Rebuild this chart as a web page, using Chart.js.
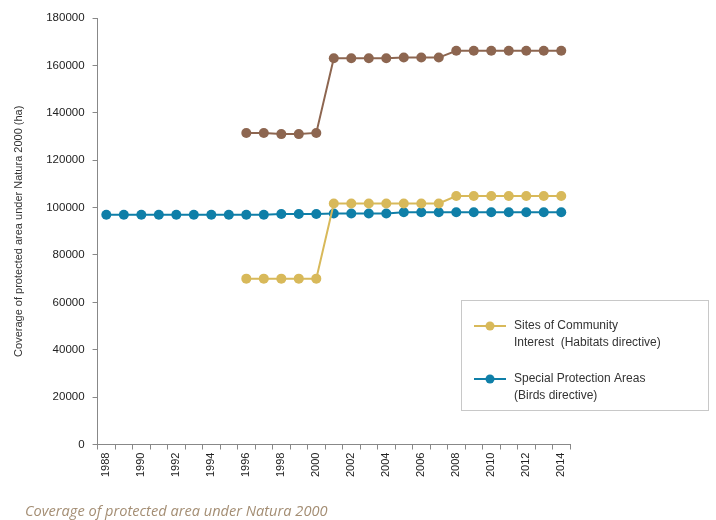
<!DOCTYPE html>
<html>
<head>
<meta charset="utf-8">
<script src="https://cdn.jsdelivr.net/npm/chart.js@4.4.0/dist/chart.umd.min.js"></script>
<style>
  body { margin: 0; background: #fff; }
  #wrap { position: relative; width: 716px; height: 520px; }
  #caption {
    position: absolute; left: 25px; top: 501px;
    font-family: "Open Sans", sans-serif; font-style: italic; font-size: 14.6px;
    line-height: 18px;
    color: #a48e74;
  }
</style>
</head>
<body>
<div id="wrap">
  <canvas id="natura" width="716" height="520"></canvas>
  <div id="caption">Coverage of protected area under Natura 2000</div>
</div>
<script>
// years on the x axis
var years = [];
for (var y = 1988; y <= 2014; y++) years.push(String(y));

// Sites of Community Interest (Habitats directive) - only from 1996
var sciValues = [null, null, null, null, null, null, null, null,
    70000, 70000, 70000, 70000, 70000,
    101700, 101700, 101700, 101700, 101700, 101700, 101700,
    104900, 104900, 104900, 104900, 104900, 104900, 104900];

// Special Protection Areas (Birds directive)
var spaValues = [97000, 97000, 97000, 97000, 97000, 97000, 97000, 97000,
    97000, 97000, 97300, 97300, 97300,
    97500, 97500, 97500, 97500, 98000, 98000, 98000,
    98000, 98000, 98000, 98000, 98000, 98000, 98000];

// total (not in the legend)
var totalValues = [null, null, null, null, null, null, null, null,
    131500, 131500, 131000, 131000, 131500,
    163000, 163000, 163000, 163000, 163300, 163300, 163300,
    166200, 166200, 166200, 166200, 166200, 166200, 166200];

var legendLines = [
    ["Sites of Community", "Interest  (Habitats directive)"],
    ["Special Protection Areas", "(Birds directive)"]
];

var yellow = "#d8b95a";
var blue = "#0f7fa8";
var brown = "#8d6650";

// draws the boxed legend at the right side
var boxLegend = {
    id: "boxLegend",
    afterDraw: function(chart) {
        var ctx = chart.ctx;
        ctx.save();
        ctx.strokeStyle = "#c8c8c8";
        ctx.lineWidth = 1;
        ctx.strokeRect(461.5, 300.5, 247, 110);
        var cols = [yellow, blue];
        var rows = [326, 379];
        ctx.font = "12px 'Liberation Sans', Arial, sans-serif";
        ctx.textBaseline = "middle";
        for (var i = 0; i < 2; i++) {
            ctx.strokeStyle = cols[i];
            ctx.lineWidth = 2;
            ctx.beginPath();
            ctx.moveTo(474, rows[i]);
            ctx.lineTo(506, rows[i]);
            ctx.stroke();
            ctx.fillStyle = cols[i];
            ctx.beginPath();
            ctx.arc(490, rows[i], 4.5, 0, Math.PI * 2);
            ctx.fill();
            ctx.fillStyle = "#333";
            ctx.fillText(legendLines[i][0], 514, rows[i]);
            ctx.fillText(legendLines[i][1], 514, rows[i] + 17);
        }
        ctx.restore();
    }
};

function series(label, data, color) {
    return {
        label: label,
        data: data,
        borderColor: color,
        backgroundColor: color,
        borderWidth: 2,
        pointRadius: 5,
        pointHoverRadius: 5,
        pointBorderWidth: 0,
        tension: 0,
        spanGaps: false
    };
}

var ctx = document.getElementById("natura").getContext("2d");
new Chart(ctx, {
    type: "line",
    data: {
        labels: years,
        datasets: [
            series("Total", totalValues, brown),
            series(legendLines[0].join(" "), sciValues, yellow),
            series(legendLines[1].join(" "), spaValues, blue)
        ]
    },
    options: {
        responsive: false,
        animation: false,
        layout: { padding: { left: 8, top: 18, right: 146, bottom: 40 } },
        plugins: {
            legend: { display: false },
            tooltip: { enabled: false }
        },
        scales: {
            x: {
                offset: true,
                grid: {
                    offset: true,
                    drawOnChartArea: false,
                    drawTicks: true,
                    tickLength: 5,
                    color: "#888"
                },
                border: { color: "#888", width: 1 },
                ticks: {
                    autoSkip: false,
                    minRotation: 90,
                    maxRotation: 90,
                    color: "#222",
                    font: { family: "'Liberation Sans', Arial, sans-serif", size: 11 },
                    callback: function(v, i) { return i % 2 === 0 ? years[i] : ""; }
                }
            },
            y: {
                min: 0,
                max: 180000,
                grid: {
                    drawOnChartArea: false,
                    drawTicks: true,
                    tickLength: 5,
                    color: "#888"
                },
                border: { color: "#888", width: 1 },
                ticks: {
                    stepSize: 20000,
                    padding: 8,
                    color: "#222",
                    font: { family: "'Liberation Sans', Arial, sans-serif", size: 11.5 },
                    callback: function(v) { return String(v); }
                },
                title: {
                    display: true,
                    text: "Coverage of protected area under Natura 2000 (ha)",
                    color: "#333",
                    padding: { top: 4, bottom: 13 },
                    font: { family: "'Liberation Sans', Arial, sans-serif", size: 11 }
                }
            }
        }
    },
    plugins: [boxLegend]
});
</script>
</body>
</html>
